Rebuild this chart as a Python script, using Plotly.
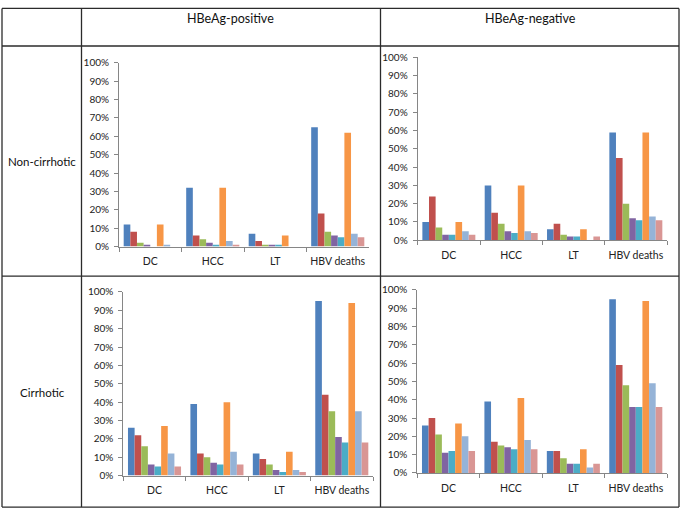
import plotly.graph_objects as go

W, H = 682, 516

categories = ["DC", "HCC", "LT", "HBV deaths"]
series_names = ["Series 1", "Series 2", "Series 3", "Series 4",
                "Series 5", "Series 6", "Series 7", "Series 8"]
series_colors = ["#4F81BD", "#C0504D", "#9BBB59", "#8064A2",
                 "#4BACC6", "#F79646", "#95B3D7", "#D99694"]

col_headers = ["HBeAg-positive", "HBeAg-negative"]
row_headers = ["Non-cirrhotic", "Cirrhotic"]

# values in %, one row per category (DC, HCC, LT, HBV deaths), 8 series each
noncirrhotic_pos = [
    [12, 8, 2, 1, 0, 12, 1, 0],
    [32, 6, 4, 2, 1, 32, 3, 1],
    [7, 3, 1, 1, 1, 6, 0, 0],
    [65, 18, 8, 6, 5, 62, 7, 5],
]
noncirrhotic_neg = [
    [10, 24, 7, 3, 3, 10, 5, 3],
    [30, 15, 9, 5, 4, 30, 5, 4],
    [6, 9, 3, 2, 2, 6, 0, 2],
    [59, 45, 20, 12, 11, 59, 13, 11],
]
cirrhotic_pos = [
    [26, 22, 16, 6, 5, 27, 12, 5],
    [39, 12, 10, 7, 6, 40, 13, 6],
    [12, 9, 6, 3, 2, 13, 3, 2],
    [95, 44, 35, 21, 18, 94, 35, 18],
]
cirrhotic_neg = [
    [26, 30, 21, 11, 12, 27, 20, 12],
    [39, 17, 15, 14, 13, 41, 18, 13],
    [12, 12, 8, 5, 5, 13, 3, 5],
    [95, 59, 48, 36, 36, 94, 49, 36],
]

panels = [noncirrhotic_pos, noncirrhotic_neg, cirrhotic_pos, cirrhotic_neg]

# panel plot areas in pixels: (x0, x1, ytop, ybottom)
panel_px = [
    (119, 369, 57.3, 245.7),
    (417.7, 667, 51.7, 239.3),
    (123.3, 373, 292.3, 480.7),
    (417.3, 667, 290.3, 478),
]

FONT = "Lato, 'Open Sans', sans-serif"

fig = go.Figure()
layout = {}
for i, (data, (x0, x1, yt, yb)) in enumerate(zip(panels, panel_px)):
    n = "" if i == 0 else str(i + 1)
    for s in range(8):
        fig.add_trace(go.Bar(
            x=categories,
            y=[data[c][s] / 100 for c in range(len(categories))],
            name=series_names[s],
            marker=dict(color=series_colors[s], line=dict(width=0)),
            xaxis="x" + n, yaxis="y" + n,
            showlegend=False,
        ))
    layout["xaxis" + n] = dict(
        domain=[x0 / W, x1 / W], anchor="y" + n,
        type="category", range=[-0.5, 3.5],
        showline=True, linecolor="#868686", linewidth=1,
        ticks="outside", tickson="boundaries", ticklen=4, tickcolor="#868686",
        ticklabelstandoff=5, tickangle=0,
        showgrid=False, zeroline=False,
        tickfont=dict(family=FONT, size=10.5, color="#222"),
        fixedrange=True,
    )
    layout["yaxis" + n] = dict(
        domain=[1 - yb / H, 1 - yt / H], anchor="x" + n,
        range=[0, 1], dtick=0.1, tickformat=".0%",
        showline=True, linecolor="#868686", linewidth=1,
        ticks="outside", ticklen=4, tickcolor="#868686",
        ticklabelstandoff=3,
        showgrid=False, zeroline=False,
        tickfont=dict(family=FONT, size=10, color="#222"),
        fixedrange=True,
    )

line_color = "#2b2b2b"
shapes = []
def hline(y, x0=2, x1=679):
    shapes.append(dict(type="line", xref="paper", yref="paper",
                       x0=x0 / W, x1=x1 / W, y0=1 - y / H, y1=1 - y / H,
                       line=dict(color=line_color, width=1.3)))
def vline(x, y0=1.5, y1=513):
    shapes.append(dict(type="line", xref="paper", yref="paper",
                       x0=x / W, x1=x / W, y0=1 - y0 / H, y1=1 - y1 / H,
                       line=dict(color=line_color, width=1.3)))

hline(1.5); hline(40); hline(276); hline(513)
vline(2); vline(81.5); vline(380.5); vline(679)

annotations = []
for txt, cx in zip(col_headers, [231, 530]):
    annotations.append(dict(text=txt, x=cx / W, y=1 - 12 / H, xref="paper", yref="paper",
                            showarrow=False, xanchor="center", yanchor="middle",
                            font=dict(family=FONT, size=12.5, color="#111")))
for txt, cy in zip(row_headers, [158, 395]):
    annotations.append(dict(text=txt, x=42 / W, y=1 - cy / H, xref="paper", yref="paper",
                            showarrow=False, xanchor="center", yanchor="middle",
                            font=dict(family=FONT, size=11.5, color="#111")))

fig.update_layout(
    width=W, height=H,
    margin=dict(l=0, r=0, t=0, b=0),
    paper_bgcolor="white", plot_bgcolor="white",
    barmode="group", bargap=0.15, bargroupgap=0,
    shapes=shapes, annotations=annotations,
    showlegend=False,
    **layout,
)

fig.write_html("out.html", config={"displayModeBar": False},
               post_script="document.body.style.margin='0';document.body.style.padding='0';")
